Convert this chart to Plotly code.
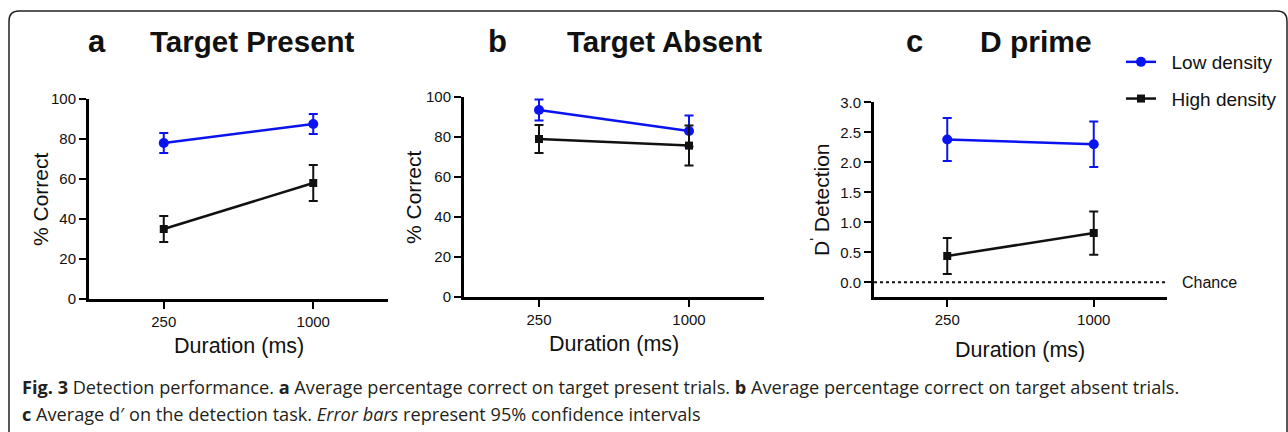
import plotly.graph_objects as go

W, H = 1288, 432

durations = ["250", "1000"]

# Panel a: Target Present (% correct)
tp_low = [78, 87.5]
tp_low_err = [5, 5]
tp_high = [35, 58]
tp_high_err = [6.5, 9]

# Panel b: Target Absent (% correct)
ta_low = [93.5, 83]
ta_low_err = [5.3, 7.7]
ta_high = [79, 75.7]
ta_high_err = [7, 10]

# Panel c: D prime
dp_low = [2.38, 2.30]
dp_low_err = [0.36, 0.38]
dp_high = [0.44, 0.82]
dp_high_err = [0.30, 0.36]

series_names = ["\u00a0\u00a0Low density", "\u00a0\u00a0High density"]
BLUE = "#0a14f0"
BLACK = "#111111"
FONT = "Liberation Sans, Arial, Helvetica, sans-serif"


def px(x):
    return x / W


def py(y):
    return 1 - y / H


fig = go.Figure()

panels = [
    (1, tp_low, tp_low_err, tp_high, tp_high_err),
    (2, ta_low, ta_low_err, ta_high, ta_high_err),
    (3, dp_low, dp_low_err, dp_high, dp_high_err),
]

for idx, lo, lo_e, hi, hi_e in panels:
    xa = "x" if idx == 1 else f"x{idx}"
    ya = "y" if idx == 1 else f"y{idx}"
    show = idx == 3
    fig.add_trace(go.Scatter(
        x=durations, y=lo, xaxis=xa, yaxis=ya, name=series_names[0],
        mode="lines+markers", legendgroup="low", showlegend=show,
        line=dict(color=BLUE, width=2.5),
        marker=dict(symbol="circle", size=10, color=BLUE),
        error_y=dict(type="data", array=lo_e, visible=True, color=BLUE,
                     thickness=2, width=4.5),
    ))
    fig.add_trace(go.Scatter(
        x=durations, y=hi, xaxis=xa, yaxis=ya, name=series_names[1],
        mode="lines+markers", legendgroup="high", showlegend=show,
        line=dict(color=BLACK, width=2.5),
        marker=dict(symbol="square", size=8, color=BLACK),
        error_y=dict(type="data", array=hi_e, visible=True, color=BLACK,
                     thickness=2, width=4.5),
    ))

axis_common = dict(
    showgrid=False, zeroline=False, showline=True, linecolor="black",
    linewidth=3, ticks="outside", ticklen=7, tickwidth=2, tickcolor="black",
    tickfont=dict(size=15, color=BLACK, family=FONT),
)

# x domains in pixels
xdoms = [(89, 388), (464, 764), (874, 1167)]
ydoms = [(99, 299), (97, 297), (102.3, 297.3)]

for i in range(3):
    n = "" if i == 0 else str(i + 1)
    anchor_y = "y" if i == 0 else f"y{i+1}"
    anchor_x = "x" if i == 0 else f"x{i+1}"
    fig.layout[f"xaxis{n}"] = dict(
        axis_common, domain=[px(xdoms[i][0]), px(xdoms[i][1])],
        anchor=anchor_y, type="category", range=[-0.5, 1.5],
        categoryorder="array", categoryarray=durations,
    )
    ycfg = dict(axis_common, domain=[py(ydoms[i][1]), py(ydoms[i][0])],
                anchor=anchor_x)
    if i < 2:
        ycfg.update(range=[0, 100], tickvals=[0, 20, 40, 60, 80, 100])
    else:
        ycfg.update(range=[-0.25, 3.0],
                    tickvals=[0, 0.5, 1.0, 1.5, 2.0, 2.5, 3.0],
                    tickformat=".1f")
    fig.layout[f"yaxis{n}"] = ycfg

# chance line
fig.add_shape(type="line", xref="x3 domain", yref="y3", x0=0, x1=1, y0=0, y1=0,
              line=dict(color=BLACK, width=2, dash="dot"))

annotations = []


def text(x, y, s, size, bold=False, angle=0, anchor="center", font=FONT, color=BLACK):
    annotations.append(dict(
        x=px(x), y=py(y), xref="paper", yref="paper", text=(f"<b>{s}</b>" if bold else s),
        showarrow=False, textangle=angle, xanchor=anchor, yanchor="middle",
        font=dict(size=size, family=font, color=color),
    ))


# panel letters and titles
text(97, 42, "a", 31, bold=True)
text(252, 42, "Target Present", 29.5, bold=True)
text(497, 42, "b", 31, bold=True)
text(664, 42, "Target Absent", 29.5, bold=True)
text(914, 42, "c", 31, bold=True)
text(1036, 42, "D prime", 30, bold=True)

# axis titles
text(40, 199, "% Correct", 21, angle=-90)
text(413, 197, "% Correct", 21, angle=-90)
text(820, 200, "D<sup>'</sup> Detection", 21, angle=-90)
text(239, 346, "Duration (ms)", 21.5)
text(614, 344, "Duration (ms)", 21.5)
text(1020, 350, "Duration (ms)", 21.5)

text(1180, 282, "Chance", 16, anchor="left")

# caption
CAP = "Open Sans, Noto Sans, sans-serif"
CAPC = "#231f20"
text(20, 387, "<b>Fig. 3</b> Detection performance. <b>a</b> Average percentage correct on target present trials. "
     "<b>b</b> Average percentage correct on target absent trials.", 18.15, anchor="left", font=CAP, color=CAPC)
text(20, 414, "<b>c</b> Average d\u2032 on the detection task. <i>Error bars</i> represent 95% confidence intervals",
     18.15, anchor="left", font=CAP, color=CAPC)

fig.update_layout(annotations=annotations)

# frame
r = 10
x0, x1, y0, y1 = 9, 1287, 11, 460
path = (f"M {px(x0)},{py(y1)} L {px(x0)},{py(y0 + r)} "
        f"Q {px(x0)},{py(y0)} {px(x0 + r)},{py(y0)} "
        f"L {px(x1 - r)},{py(y0)} Q {px(x1)},{py(y0)} {px(x1)},{py(y0 + r)} "
        f"L {px(x1)},{py(y1)}")
fig.add_shape(type="path", xref="paper", yref="paper", path=path,
              line=dict(color="#222222", width=1.5))

fig.update_layout(
    width=W, height=H, margin=dict(l=0, r=0, t=0, b=0, pad=0, autoexpand=False),
    paper_bgcolor="white", plot_bgcolor="white",
    font=dict(family=FONT, color=BLACK),
    showlegend=True,
    legend=dict(x=px(1121), y=py(43), xanchor="left", yanchor="top",
                font=dict(size=19, family=FONT, color=BLACK),
                bgcolor="rgba(0,0,0,0)", tracegroupgap=9, itemwidth=30),
)

fig.write_html("out.html")
